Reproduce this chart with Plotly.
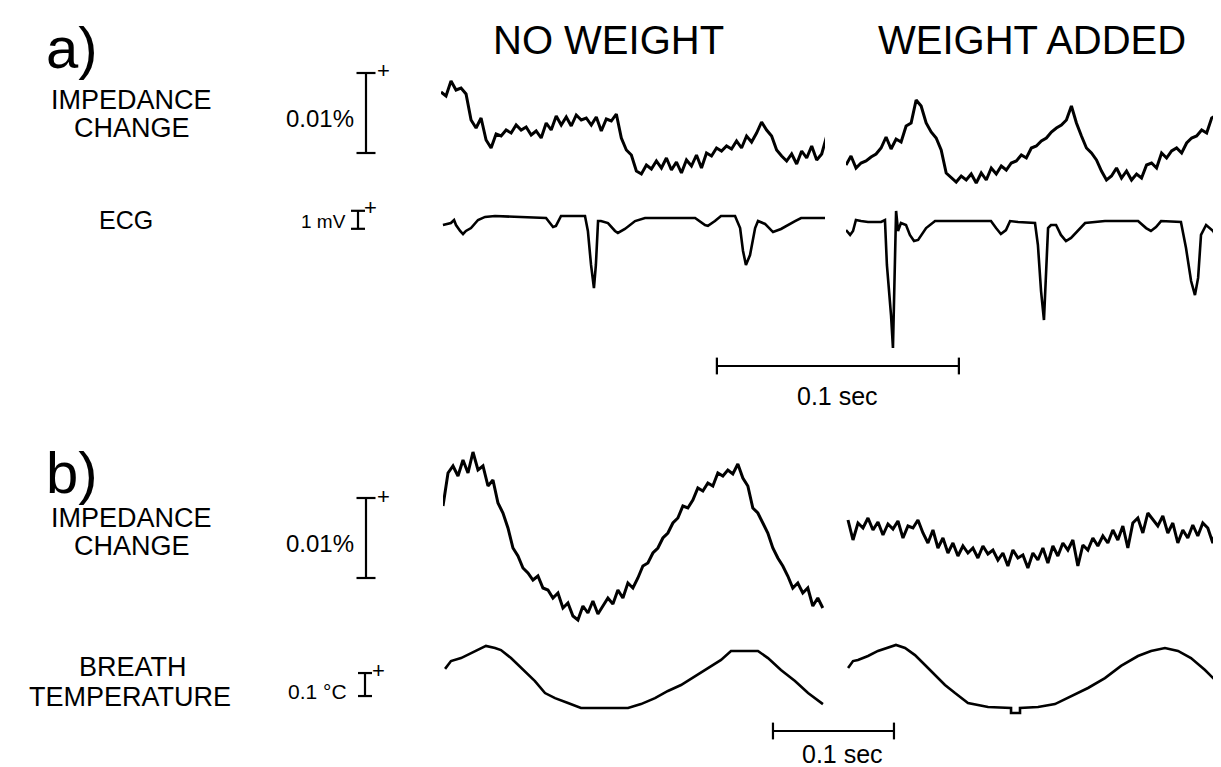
import numpy as np
import plotly.graph_objects as go

W, H = 1221, 767

# ------------------------------------------------------------------ DATA
# a) impedance change, display units (80 units = 0.01 %), one sample every 2.07 ms
A_IMP_STEP_MS = 2.07
A_IMP_NO_WEIGHT = [86, 82, 97, 88, 90, 84, 58, 50, 60, 38,
                   30, 44, 42, 48, 45, 53, 48, 51, 43, 47,
                   40, 55, 48, 62, 53, 61, 52, 63, 58, 60,
                   53, 61, 47, 59, 57, 64, 40, 28, 23, 7,
                   4, 13, 9, 17, 10, 20, 8, 16, 5, 18,
                   12, 23, 10, 25, 22, 30, 27, 32, 29, 37,
                   30, 42, 36, 45, 56, 48, 42, 28, 22, 17,
                   24, 14, 27, 20, 32, 18, 24, 42]
A_IMP_WEIGHT = [13, 22, 10, 15, 17, 21, 24, 30, 41, 29,
                39, 36, 52, 55, 78, 72, 55, 46, 40, 28,
                5, 0, -4, 2, -2, 4, -5, 5, -2, 10,
                4, 12, 8, 15, 17, 23, 20, 30, 32, 37,
                40, 46, 50, 53, 58, 72, 55, 42, 30, 25,
                18, 7, -2, 2, 10, 0, 7, -2, 4, 0,
                13, 15, 10, 25, 20, 27, 30, 25, 35, 40,
                42, 48, 45, 60, 63, 70, 50]

# a) ECG (time ms, mV)
A_ECG_NO_WEIGHT_T = [0.8, 2.9, 4.1, 5.4, 6.2, 7.9, 9.1, 10.3, 12.4, 15.3,
                     18.2, 22.3, 36.0, 43.4, 46.3, 47.5, 49.6, 52.5, 59.5, 60.7,
                     62.0, 63.2, 64.0, 64.9, 66.1, 69.0, 71.9, 73.1, 76.0, 80.2,
                     84.3, 90.9, 105.0, 109.1, 110.3, 113.2, 115.7, 121.5, 123.6, 124.8,
                     126.0, 127.7, 129.8, 131.0, 133.9, 137.2, 140.5, 146.3, 148.8, 158.7]
A_ECG_NO_WEIGHT_V = [-0.39, -0.33, -0.28, -0.11, -0.39, -0.72, -0.89, -0.72, -0.56, -0.11,
                     0.06, 0.11, 0.06, 0.0, -0.50, -0.44, 0.11, 0.11, 0.11, -0.72,
                     -2.61, -3.89, -2.61, -0.17, -0.17, -0.28, -0.72, -0.83, -0.61, -0.17,
                     0.0, 0.0, 0.0, -0.39, -0.44, -0.17, 0.11, 0.11, -0.56, -1.83,
                     -2.61, -2.06, -0.56, -0.17, -0.33, -0.78, -0.61, -0.17, 0.0, 0.0]
A_ECG_WEIGHT_T = [0.0, 1.7, 2.9, 4.1, 6.2, 9.1, 14.5, 16.1, 16.9, 18.6,
                  19.4, 20.2, 20.7, 21.5, 22.7, 24.8, 26.4, 28.1, 29.8, 33.1,
                  36.8, 45.0, 59.9, 62.0, 64.0, 66.1, 67.8, 71.1, 78.1, 79.3,
                  80.6, 81.8, 82.6, 83.5, 84.7, 86.8, 88.8, 90.9, 93.0, 95.9,
                  98.8, 107.0, 120.7, 124.0, 126.0, 128.1, 130.2, 138.4, 140.5, 142.6,
                  144.2, 145.5, 146.7, 148.8, 151.7, 153.7, 155.8, 157.9]
A_ECG_WEIGHT_V = [-0.67, -0.94, -0.72, -0.11, -0.17, -0.22, -0.22, -0.11, -2.61, -5.39,
                  -7.22, -2.61, 0.39, -0.72, -0.28, -0.39, -0.94, -1.28, -1.22, -0.56,
                  -0.17, -0.17, -0.17, -0.56, -0.89, -0.67, -0.17, -0.22, -0.28, -1.50,
                  -4.06, -5.67, -3.50, -0.56, -0.39, -0.39, -0.94, -1.28, -1.11, -0.67,
                  -0.28, -0.17, -0.17, -0.56, -0.72, -0.50, -0.17, -0.22, -1.67, -3.50,
                  -4.28, -3.33, -0.94, -0.39, -0.72, -1.22, -0.83, -0.44]

# b) impedance change, display units (80 units = 0.01 %), one sample every 4.13 ms
B_IMP_STEP_MS = 4.13
B_IMP_NO_WEIGHT = [122, 155, 162, 152, 168, 155, 176, 158, 162, 142,
                   148, 125, 115, 100, 80, 72, 60, 55, 48, 52,
                   40, 38, 30, 35, 20, 25, 12, 8, 22, 15,
                   27, 14, 22, 30, 24, 38, 30, 45, 40, 50,
                   62, 65, 75, 80, 90, 95, 105, 110, 122, 120,
                   128, 140, 137, 145, 142, 155, 152, 158, 154, 164,
                   150, 142, 120, 115, 105, 95, 80, 70, 62, 52,
                   40, 45, 35, 40, 22, 30, 20]
B_IMP_WEIGHT = [108, 88, 105, 100, 110, 98, 106, 93, 104, 99,
                107, 90, 102, 100, 108, 95, 85, 98, 80, 90,
                75, 85, 72, 82, 75, 80, 70, 82, 74, 78,
                68, 75, 62, 78, 70, 73, 60, 75, 68, 80,
                65, 82, 72, 85, 78, 88, 62, 83, 78, 90,
                82, 92, 85, 98, 88, 102, 80, 105, 110, 95,
                115, 108, 102, 112, 95, 105, 85, 98, 90, 103,
                92, 105, 100, 85, 106, 98, 80]

# b) breath temperature (time ms, deg C relative)
B_TEMP_NO_WEIGHT_T = [1.7, 6.6, 14.9, 23.1, 28.9, 35.5, 43.0, 47.9, 56.2, 64.5,
                      76.0, 84.3, 92.6, 103.3, 114.0, 152.9, 163.6, 175.2, 185.9, 196.7,
                      208.3, 221.5, 229.8, 238.0, 260.3, 268.6, 279.3, 290.9, 301.7, 314.0]
B_TEMP_NO_WEIGHT_V = [0.170, 0.204, 0.217, 0.239, 0.252, 0.270, 0.261, 0.252, 0.217, 0.174,
                      0.117, 0.065, 0.043, 0.022, 0.0, 0.0, 0.017, 0.043, 0.074, 0.100,
                      0.139, 0.183, 0.209, 0.248, 0.248, 0.217, 0.165, 0.117, 0.065, 0.017]
B_TEMP_WEIGHT_T = [1.7, 5.8, 9.9, 18.2, 26.4, 34.7, 41.3, 48.8, 57.0, 65.3,
                   73.6, 81.8, 90.1, 100.8, 117.4, 133.9, 136.4, 136.4, 143.8, 143.8,
                   158.7, 172.7, 186.0, 200.0, 214.0, 227.3, 241.3, 252.1, 263.6, 274.4,
                   285.1, 296.7, 307.4, 315.7]
B_TEMP_WEIGHT_V = [0.174, 0.204, 0.209, 0.226, 0.248, 0.261, 0.274, 0.261, 0.230, 0.187,
                   0.143, 0.100, 0.065, 0.022, 0.004, 0.0, 0.0, -0.022, -0.022, 0.0,
                   0.004, 0.017, 0.052, 0.087, 0.130, 0.183, 0.226, 0.248, 0.261, 0.248,
                   0.217, 0.165, 0.109, 0.074]

# calibration sizes
IMP_CAL_UNITS = 80      # 0.01 %
ECG_CAL_MV = 1.0        # 1 mV
TEMP_CAL_C = 0.1        # 0.1 deg C
TIME_CAL_MS = 100       # 0.1 sec

COLUMN_TITLES = ["NO WEIGHT", "WEIGHT ADDED"]

# ------------------------------------------------------------------ LAYOUT HELPERS
FONT = "Liberation Sans, Arial, Helvetica, sans-serif"


def xaxis(x0, x1, ppms):
    return dict(domain=[x0 / W, x1 / W], range=[0, (x1 - x0) / ppms], visible=False,
                fixedrange=True)


def yaxis(top, bot, zero, ppu):
    return dict(domain=[1 - bot / H, 1 - top / H],
                range=[(zero - bot) / ppu, (zero - top) / ppu], visible=False,
                fixedrange=True)


def px(x, y):
    return x / W, 1 - y / H


fig = go.Figure()


def add(x, y, xa, ya, width):
    fig.add_trace(go.Scatter(x=x, y=y, xaxis=xa, yaxis=ya, mode="lines",
                             line=dict(color="black", width=width), hoverinfo="skip",
                             showlegend=False))


def times(n, step, t0=0.0):
    return t0 + step * np.arange(n)


# traces
add(times(len(A_IMP_NO_WEIGHT), A_IMP_STEP_MS), A_IMP_NO_WEIGHT, "x", "y", 3.0)
add(times(len(A_IMP_WEIGHT), A_IMP_STEP_MS), A_IMP_WEIGHT, "x2", "y", 3.0)
add(A_ECG_NO_WEIGHT_T, A_ECG_NO_WEIGHT_V, "x", "y2", 2.6)
add(A_ECG_WEIGHT_T, A_ECG_WEIGHT_V, "x2", "y2", 2.6)
add(times(len(B_IMP_NO_WEIGHT), B_IMP_STEP_MS), B_IMP_NO_WEIGHT, "x3", "y3", 3.0)
add(times(len(B_IMP_WEIGHT), B_IMP_STEP_MS, 1.65), B_IMP_WEIGHT, "x4", "y3", 3.0)
add(B_TEMP_NO_WEIGHT_T, B_TEMP_NO_WEIGHT_V, "x3", "y4", 2.6)
add(B_TEMP_WEIGHT_T, B_TEMP_WEIGHT_V, "x4", "y4", 2.6)

# time scale bars
A_SB_START = 114.0
B_SB_START = 272.7
for xa, ya, t0 in (("x5", "y5", A_SB_START), ("x6", "y6", B_SB_START)):
    add([t0, t0 + TIME_CAL_MS], [0, 0], xa, ya, 2.2)
    add([t0, t0], [-0.7, 0.7], xa, ya, 2.2)
    add([t0 + TIME_CAL_MS, t0 + TIME_CAL_MS], [-0.7, 0.7], xa, ya, 2.2)


# amplitude calibration bars (x7 = calibration column)
def cal_bar(ya, xc, half, lo, hi):
    add([xc, xc], [lo, hi], "x7", ya, 2.2)
    add([xc - half, xc + half], [lo, lo], "x7", ya, 2.2)
    add([xc - half, xc + half], [hi, hi], "x7", ya, 2.2)


cal_bar("y", 28, 9.5, 25, 25 + IMP_CAL_UNITS)
cal_bar("y2", 20, 7, -0.6, -0.6 + ECG_CAL_MV)
cal_bar("y3", 28, 9.5, 50, 50 + IMP_CAL_UNITS)
cal_bar("y4", 27, 7, 0.052, 0.052 + TEMP_CAL_C)

layout = dict(
    width=W, height=H, margin=dict(l=0, r=0, t=0, b=0),
    paper_bgcolor="white", plot_bgcolor="white", showlegend=False,
    font=dict(family=FONT, color="black"),
    xaxis=xaxis(433, 817, 2.42), xaxis2=xaxis(838, 1221, 2.42),
    xaxis3=xaxis(435, 818, 1.21), xaxis4=xaxis(838, 1221, 1.21),
    xaxis5=xaxis(433, 1221, 2.42), xaxis6=xaxis(435, 1221, 1.21),
    xaxis7=dict(domain=[330 / W, 390 / W], range=[0, 60], visible=False, fixedrange=True),
    yaxis=yaxis(50, 190, 170, 1), yaxis2=yaxis(190, 350, 210, 18),
    yaxis3=yaxis(430, 630, 620, 1), yaxis4=yaxis(630, 712, 700, 230),
    yaxis5=dict(domain=[1 - 370 / H, 1 - 346 / H], range=[-1, 1], visible=False),
    yaxis6=dict(domain=[1 - 735 / H, 1 - 711 / H], range=[-1, 1], visible=False),
)
fig.update_layout(**layout)

ann = []


def text(s, x, y, size, xanchor="center"):
    xx, yy = px(x, y)
    ann.append(dict(text=s, x=xx, y=yy, xref="paper", yref="paper", showarrow=False,
                    xanchor=xanchor, yanchor="middle", font=dict(size=size, family=FONT)))


text("a)", 36, 40, 58, "left")
text("b)", 36, 464, 58, "left")
text(COLUMN_TITLES[0], 600, 32, 40)
text(COLUMN_TITLES[1], 1024, 32, 40)
for y0 in (92, 510):
    text("IMPEDANCE", 124, y0, 27)
    text("CHANGE", 124, y0 + 28, 27)
text("ECG", 118, 212, 25)
text("BREATH", 125, 659, 27)
text("TEMPERATURE", 122, 689, 27)
text("0.01%", 348, 110, 24, "right")
text("0.01%", 348, 535, 24, "right")
text("1 mV", 340, 213, 19, "right")
text("0.1 °C", 341, 683, 21, "right")
text("0.1 sec", 829, 388, 25)
text("0.1 sec", 834, 746, 25)

# "+" polarity marks next to calibration bars
for ya, xv, yv in (("y", 45, 107), ("y2", 32, 0.56), ("y3", 45, 132), ("y4", 40, 0.165)):
    ann.append(dict(text="+", x=xv, y=yv, xref="x7", yref=ya, showarrow=False,
                    xanchor="center", yanchor="middle", font=dict(size=22, family=FONT)))

fig.update_layout(annotations=ann)
fig.write_html("out.html")
